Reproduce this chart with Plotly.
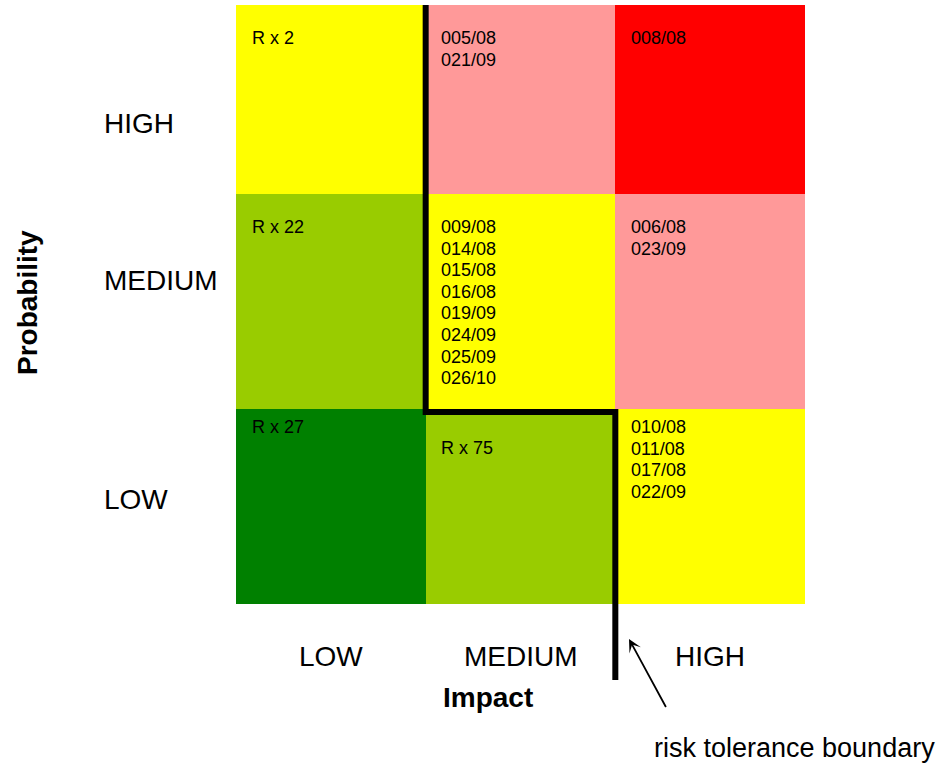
import plotly.graph_objects as go

# ---------------- data ----------------
impact_levels = ["LOW", "MEDIUM", "HIGH"]
probability_levels = ["LOW", "MEDIUM", "HIGH"]

# risk level per cell: rows = probability (LOW..HIGH), cols = impact (LOW..HIGH)
cell_risk = [
    [0, 1, 2],
    [1, 2, 3],
    [2, 3, 4],
]
risk_colors = ["#008000", "#99CC00", "#FFFF00", "#FF9999", "#FF0000"]

cell_items = [
    [["R x 27"], ["R x 75"], ["010/08", "011/08", "017/08", "022/09"]],
    [["R x 22"],
     ["009/08", "014/08", "015/08", "016/08", "019/09", "024/09", "025/09", "026/10"],
     ["006/08", "023/09"]],
    [["R x 2"], ["005/08", "021/09"], ["008/08"]],
]

# risk tolerance boundary, as (impact edge index, probability edge index)
boundary_impact = [1, 1, 2, 2]
boundary_prob = [3, 1, 1, None]  # None -> runs down past the grid

axis_titles = {"x": "Impact", "y": "Probability"}
boundary_label = "risk tolerance boundary"

# ---------------- layout geometry ----------------
W, H = 940, 767
PLOT_L, PLOT_R = 236, 805
PLOT_T, GRID_B, PLOT_B = 5, 604, 680
row_heights = [195, 215, 189]           # LOW, MEDIUM, HIGH (px)
row_edges = [0]
for h in row_heights:
    row_edges.append(row_edges[-1] + h)
col_edges = [0, 1, 2, 3]
BOUNDARY_DROP = 3  # px the horizontal boundary segment sits below the row edge

def ypx(py):
    """convert a page pixel row to y data units (y units are pixels above grid bottom)"""
    return GRID_B - py

def xpaper(px):
    return (px - PLOT_L) / (PLOT_R - PLOT_L)

def ypaper(py):
    return (PLOT_B - py) / (PLOT_B - PLOT_T)

FONT = "Liberation Sans, Arial, sans-serif"
n_levels = len(risk_colors)
colorscale = []
for i, c in enumerate(risk_colors):
    colorscale.append([i / n_levels, c])
    colorscale.append([(i + 1) / n_levels, c])

fig = go.Figure()
fig.add_trace(go.Heatmap(
    x=col_edges, y=row_edges, z=cell_risk,
    zmin=-0.5, zmax=n_levels - 0.5,
    colorscale=colorscale, showscale=False, hoverinfo="skip",
))

# boundary line
by = []
for p in boundary_prob:
    if p is None:
        by.append(ypx(PLOT_B))
    elif p == len(row_heights):
        by.append(row_edges[p])
    else:
        by.append(row_edges[p] - BOUNDARY_DROP)
fig.add_trace(go.Scatter(
    x=boundary_impact, y=by, mode="lines",
    line=dict(color="black", width=6), hoverinfo="skip", showlegend=False,
))

annotations = []
# cell texts
line_gap = 21.6
first_line_offset = {(0, 0): 18, (0, 1): 39, (0, 2): 18}
for r, row in enumerate(cell_items):
    for c, items in enumerate(row):
        off = first_line_offset.get((r, c), 33)
        for i, t in enumerate(items):
            annotations.append(dict(
                x=col_edges[c], y=row_edges[r + 1], xref="x", yref="y",
                text=t, showarrow=False, xanchor="left", yanchor="middle",
                xshift=13.5, yshift=-(off + i * line_gap),
                font=dict(family=FONT, size=18, color="black"),
            ))

# probability level labels (left)
prob_label_py = [499, 280, 124]
for lab, py in zip(probability_levels, prob_label_py):
    annotations.append(dict(
        x=xpaper(102), y=ypaper(py), xref="paper", yref="paper", text=lab,
        showarrow=False, xanchor="left", yanchor="middle",
        font=dict(family=FONT, size=28, color="black"),
    ))

# impact level labels (bottom)
for c, lab in enumerate(impact_levels):
    annotations.append(dict(
        x=c + 0.5, y=ypaper(656), xref="x", yref="paper", text=lab,
        showarrow=False, xanchor="center", yanchor="middle",
        font=dict(family=FONT, size=28, color="black"),
    ))

# axis titles
annotations.append(dict(
    x=xpaper(488), y=ypaper(697), xref="paper", yref="paper",
    text="<b>%s</b>" % axis_titles["x"], showarrow=False,
    xanchor="center", yanchor="middle",
    font=dict(family=FONT, size=28, color="black"),
))
annotations.append(dict(
    x=xpaper(27), y=ypaper(303), xref="paper", yref="paper",
    text="<b>%s</b>" % axis_titles["y"], showarrow=False, textangle=-90,
    xanchor="center", yanchor="middle",
    font=dict(family=FONT, size=28, color="black"),
))

# boundary label + arrow
annotations.append(dict(
    x=xpaper(652), y=ypaper(748), xref="paper", yref="paper",
    text=boundary_label, showarrow=False, xanchor="left", yanchor="middle",
    font=dict(family=FONT, size=27, color="black"),
))
annotations.append(dict(
    x=(629 - PLOT_L) / (PLOT_R - PLOT_L) * 3, y=ypx(639), xref="x", yref="y",
    text=" ", showarrow=True, ax=38, ay=70,
    arrowhead=3, arrowsize=1.2, arrowwidth=1.8, arrowcolor="black",
    font=dict(size=1),
))

fig.update_layout(
    width=W, height=H, autosize=False,
    margin=dict(l=PLOT_L, r=W - PLOT_R, t=PLOT_T, b=H - PLOT_B, pad=0),
    paper_bgcolor="white", plot_bgcolor="white",
    xaxis=dict(range=[0, 3], visible=False, fixedrange=True),
    yaxis=dict(range=[ypx(PLOT_B), ypx(PLOT_T)], visible=False, fixedrange=True),
    annotations=annotations, showlegend=False,
)

fig.write_html("out.html", config={"displayModeBar": False},
               post_script="document.body.style.margin='0';")
